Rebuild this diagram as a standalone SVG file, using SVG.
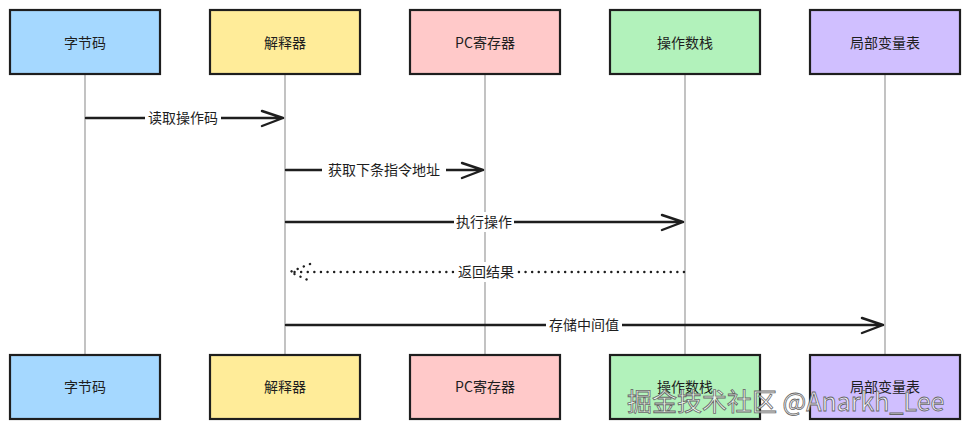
<svg xmlns="http://www.w3.org/2000/svg" width="970" height="430" viewBox="0 0 970 430">
<style>
.box{stroke:#1e1e1e;stroke-width:2.2;}
.lbl{font-family:"Noto Sans CJK SC","Noto Sans",sans-serif;font-size:14px;fill:#1e1e1e;text-anchor:middle;dominant-baseline:central;}
.life{stroke:#9a9a9a;stroke-width:1.2;fill:none;}
.msg{stroke:#1e1e1e;stroke-width:2.4;fill:none;stroke-linecap:round;stroke-linejoin:round;}
.dot{stroke:#1e1e1e;stroke-width:2.4;fill:none;stroke-linecap:round;stroke-dasharray:0.1 6.5;}
.mlbl{font-family:"Noto Sans CJK SC","Noto Sans",sans-serif;font-size:14px;fill:#1e1e1e;text-anchor:middle;dominant-baseline:central;}
.wm{font-family:"Noto Sans CJK SC","Noto Sans",sans-serif;font-size:25px;fill:#ffffff;fill-opacity:0.8;stroke:#666;stroke-width:0.8;}
</style>
<rect width="970" height="430" fill="#ffffff"/>
<g id="lifelines">
<line class="life" x1="85" y1="74" x2="85" y2="355"/>
<line class="life" x1="285" y1="74" x2="285" y2="355"/>
<line class="life" x1="485" y1="74" x2="485" y2="355"/>
<line class="life" x1="685" y1="74" x2="685" y2="355"/>
<line class="life" x1="885" y1="74" x2="885" y2="355"/>
</g>
<g id="n-bytecode-top"><rect class="box" x="10" y="10" width="150" height="64" fill="#a5d8ff"/><text class="lbl" x="85" y="42">字节码</text></g>
<g id="n-interp-top"><rect class="box" x="210" y="10" width="150" height="64" fill="#ffec99"/><text class="lbl" x="285" y="42">解释器</text></g>
<g id="n-pc-top"><rect class="box" x="410" y="10" width="150" height="64" fill="#ffc9c9"/><text class="lbl" x="485" y="42">PC寄存器</text></g>
<g id="n-stack-top"><rect class="box" x="610" y="10" width="150" height="64" fill="#b2f2bb"/><text class="lbl" x="685" y="42">操作数栈</text></g>
<g id="n-locals-top"><rect class="box" x="810" y="10" width="150" height="64" fill="#d0bfff"/><text class="lbl" x="885" y="42">局部变量表</text></g>
<g id="n-bytecode-bot"><rect class="box" x="10" y="355" width="150" height="64" fill="#a5d8ff"/><text class="lbl" x="85" y="386">字节码</text></g>
<g id="n-interp-bot"><rect class="box" x="210" y="355" width="150" height="64" fill="#ffec99"/><text class="lbl" x="285" y="386">解释器</text></g>
<g id="n-pc-bot"><rect class="box" x="410" y="355" width="150" height="64" fill="#ffc9c9"/><text class="lbl" x="485" y="386">PC寄存器</text></g>
<g id="n-stack-bot"><rect class="box" x="610" y="355" width="150" height="64" fill="#b2f2bb"/><text class="lbl" x="685" y="386">操作数栈</text></g>
<g id="n-locals-bot"><rect class="box" x="810" y="355" width="150" height="64" fill="#d0bfff"/><text class="lbl" x="885" y="386">局部变量表</text></g>
<g id="connectors">
<path class="msg" d="M86 118 H283 M262 111 L283 118 L262 126"/>
<rect x="145" y="108" width="76" height="20" fill="#ffffff"/>
<text class="mlbl" x="183" y="117">读取操作码</text>
<path class="msg" d="M286 170 H483 M462 163 L483 170 L462 178"/>
<rect x="322" y="160" width="124" height="20" fill="#ffffff"/>
<text class="mlbl" x="384" y="169">获取下条指令地址</text>
<path class="msg" d="M286 222 H683 M662 215 L683 222 L662 230"/>
<rect x="454" y="212" width="60" height="20" fill="#ffffff"/>
<text class="mlbl" x="484" y="221">执行操作</text>
<path class="dot" d="M684 272 H290 M310 264 L290 272 L310 281"/>
<rect x="456" y="262" width="60" height="20" fill="#ffffff"/>
<text class="mlbl" x="486" y="271">返回结果</text>
<path class="msg" d="M286 325 H883 M862 318 L883 325 L862 333"/>
<rect x="546" y="315" width="76" height="20" fill="#ffffff"/>
<text class="mlbl" x="584" y="324">存储中间值</text>
</g>
<text class="wm" x="627" y="411">掘金技术社区 @Anarkh_Lee</text>
</svg>
